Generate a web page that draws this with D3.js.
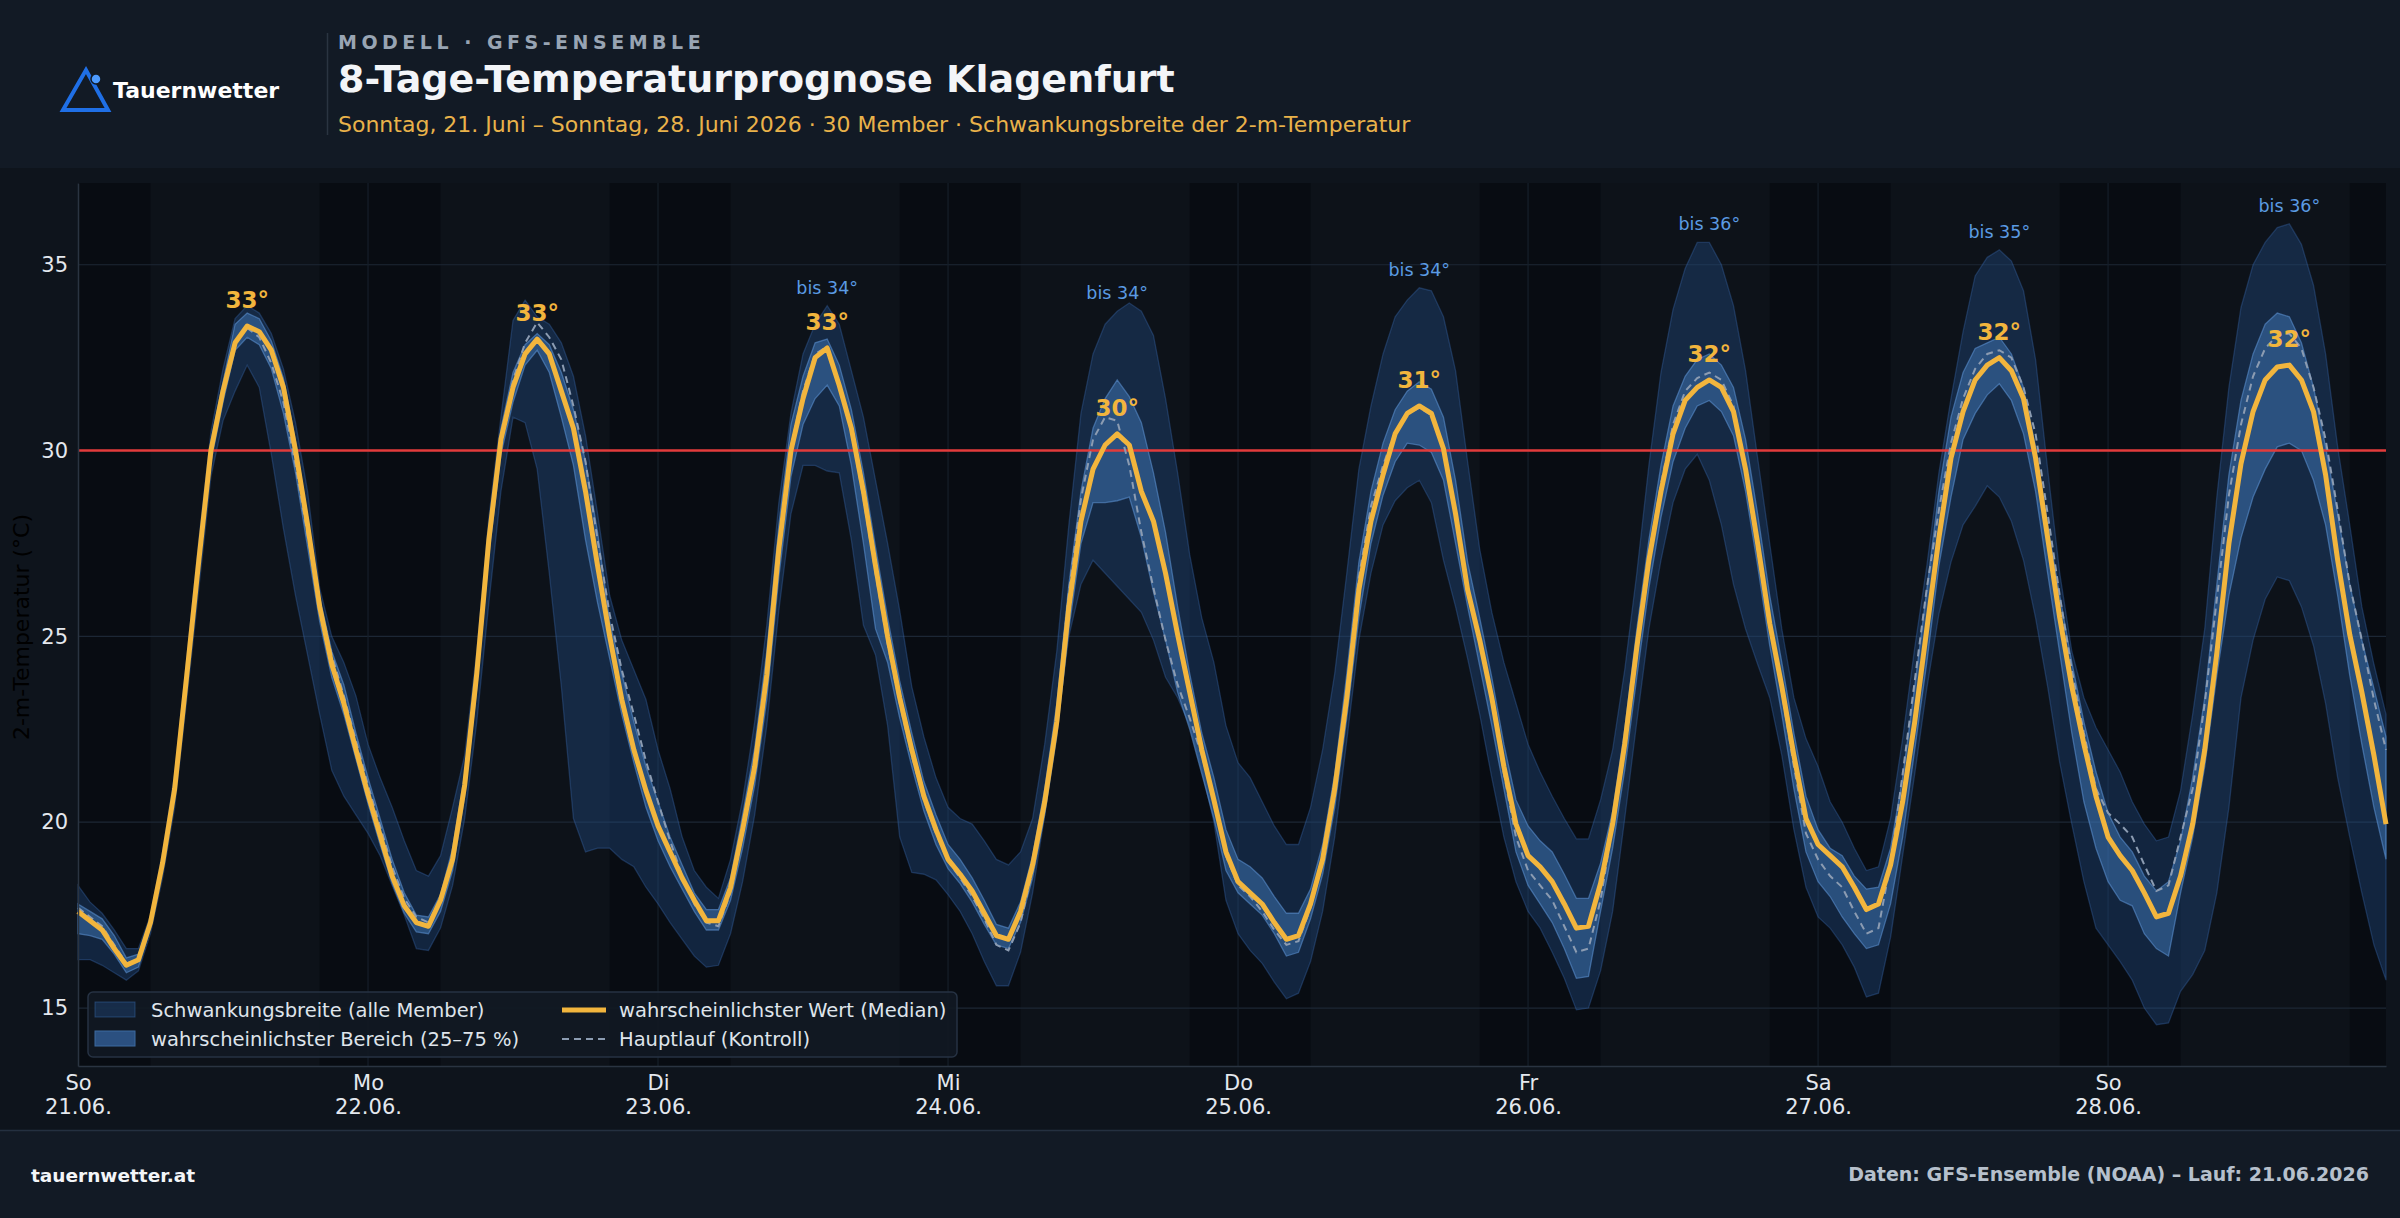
<!DOCTYPE html>
<html lang="de">
<head>
<meta charset="utf-8">
<title>8-Tage-Temperaturprognose Klagenfurt</title>
<script src="https://cdn.jsdelivr.net/npm/d3@7"></script>
<style>
  html, body { margin: 0; padding: 0; background: #0e141c; }
  svg { display: block; font-family: "DejaVu Sans", sans-serif; }
</style>
</head>
<body>
<div id="chart"></div>
<script>
// hourly values from 21.06. 00 h to 28.06. 23 h, one row per day
var median = [
  17.6, 17.35, 17.1, 16.6, 16.15, 16.3, 17.3, 18.9, 20.9, 23.95, 27.05, 30.0, 31.6, 32.9, 33.35, 33.2, 32.7, 31.7, 30.0, 28.0, 25.8, 24.25, 23.2, 21.95,
  20.75, 19.65, 18.55, 17.75, 17.3, 17.2, 17.9, 19.0, 21.0, 24.0, 27.6, 30.3, 31.7, 32.6, 33.0, 32.6, 31.6, 30.6, 28.9, 26.9, 25.0, 23.3, 21.95, 20.85,
  19.9, 19.2, 18.5, 17.9, 17.35, 17.35, 18.24, 19.8, 21.5, 23.96, 27.36, 30.0, 31.4, 32.5, 32.76, 31.75, 30.6, 28.9, 26.9, 25.0, 23.35, 21.95, 20.7, 19.8,
  19.0, 18.6, 18.15, 17.55, 16.95, 16.85, 17.6, 18.85, 20.55, 22.7, 25.8, 28.1, 29.5, 30.15, 30.45, 30.15, 28.9, 28.1, 26.7, 25.05, 23.5, 21.95, 20.6, 19.2,
  18.4, 18.1, 17.8, 17.3, 16.85, 16.95, 17.8, 19.0, 20.9, 23.35, 26.25, 28.1, 29.35, 30.45, 31.0, 31.2, 31.0, 30.05, 28.3, 26.25, 24.9, 23.35, 21.5, 19.95,
  19.1, 18.8, 18.4, 17.8, 17.15, 17.2, 18.35, 19.95, 22.1, 24.7, 27.05, 28.9, 30.45, 31.35, 31.7, 31.9, 31.7, 31.05, 29.5, 27.5, 25.35, 23.65, 21.8, 20.1,
  19.4, 19.1, 18.8, 18.25, 17.65, 17.8, 18.85, 20.55, 22.7, 25.2, 27.65, 29.8, 31.05, 31.9, 32.3, 32.5, 32.15, 31.4, 29.8, 27.65, 25.5, 23.65, 22.1, 20.7,
  19.6, 19.1, 18.7, 18.1, 17.45, 17.55, 18.55, 19.95, 21.95, 24.55, 27.5, 29.65, 31.05, 31.9, 32.25, 32.3, 31.9, 31.05, 29.35, 27.05, 25.05, 23.5, 21.8, 19.95
];
var memberMax = [
  18.3, 17.85, 17.55, 17.1, 16.6, 16.6, 17.5, 19.2, 21.3, 24.4, 27.6, 30.5, 32.2, 33.55, 33.9, 33.7, 33.15, 32.2, 30.75, 28.9, 26.3, 25.0, 24.3, 23.4,
  22.1, 21.2, 20.4, 19.5, 18.7, 18.55, 19.1, 20.4, 21.8, 24.6, 28.2, 30.9, 33.5, 34.05, 33.6, 33.4, 32.9, 32.0, 30.4, 28.3, 26.1, 24.9, 24.1, 23.3,
  21.95, 20.9, 19.6, 18.7, 18.25, 17.95, 19.0, 20.6, 22.7, 25.3, 28.6, 31.0, 32.6, 33.4, 33.9, 33.4, 32.15, 30.9, 29.2, 27.5, 25.7, 23.65, 22.3, 21.2,
  20.4, 20.1, 19.95, 19.5, 19.0, 18.85, 19.2, 20.1, 22.1, 24.6, 28.0, 31.0, 32.6, 33.4, 33.75, 33.97, 33.75, 33.1, 31.4, 29.4, 27.2, 25.5, 24.3, 22.6,
  21.6, 21.2, 20.55, 19.9, 19.4, 19.4, 20.4, 21.95, 24.0, 26.7, 29.5, 31.2, 32.6, 33.6, 34.05, 34.38, 34.3, 33.6, 32.15, 29.7, 27.35, 25.65, 24.3, 23.2,
  22.1, 21.35, 20.7, 20.1, 19.55, 19.55, 20.6, 21.95, 24.1, 26.7, 29.6, 32.1, 33.8, 34.9, 35.6, 35.6, 35.0, 33.9, 32.15, 29.8, 27.5, 25.2, 23.35, 22.25,
  21.5, 20.55, 20.0, 19.3, 18.7, 18.8, 20.1, 22.25, 24.7, 26.9, 29.4, 31.4, 33.2, 34.7, 35.2, 35.4, 35.1, 34.3, 32.45, 29.5, 26.7, 24.6, 23.35, 22.55,
  21.95, 21.35, 20.55, 19.95, 19.5, 19.6, 20.85, 22.9, 25.2, 28.75, 31.7, 33.85, 35.0, 35.6, 36.0, 36.1, 35.55, 34.45, 32.6, 30.1, 28.0, 25.8, 24.25, 22.9
];
var memberMin = [
  16.3, 16.3, 16.15, 15.95, 15.75, 16.0, 17.0, 18.5, 20.4, 23.3, 26.3, 29.3, 30.8, 31.6, 32.3, 31.7, 29.9, 27.9, 26.1, 24.5, 22.9, 21.4, 20.7, 20.2,
  19.7, 19.1, 18.3, 17.5, 16.6, 16.55, 17.15, 18.3, 20.1, 22.7, 25.9, 28.9, 30.9, 30.75, 29.5, 26.7, 23.65, 20.1, 19.2, 19.3, 19.3, 19.0, 18.8, 18.25,
  17.8, 17.3, 16.85, 16.4, 16.1, 16.15, 17.0, 18.4, 20.2, 22.6, 25.7, 28.3, 29.6, 29.6, 29.45, 29.4, 27.6, 25.3, 24.5, 22.6, 19.6, 18.65, 18.6, 18.45,
  18.05, 17.6, 17.0, 16.25, 15.6, 15.6, 16.5, 18.1, 20.2, 22.5, 25.0, 26.4, 27.05, 26.7, 26.35, 26.0, 25.65, 24.9, 23.9, 23.35, 22.6, 21.4, 20.0, 17.9,
  17.0, 16.55, 16.2, 15.7, 15.25, 15.4, 16.25, 17.6, 19.6, 22.2, 24.9, 26.7, 28.0, 28.65, 29.0, 29.2, 28.6, 27.05, 25.8, 24.4, 22.9, 21.2, 19.6, 18.4,
  17.6, 17.15, 16.5, 15.8, 14.95, 15.0, 16.0, 17.6, 20.1, 22.7, 25.2, 27.05, 28.6, 29.5, 29.9, 29.2, 28.0, 26.4, 25.2, 24.25, 23.35, 21.8, 19.8, 18.25,
  17.45, 17.15, 16.7, 16.1, 15.3, 15.4, 16.9, 19.1, 21.3, 23.6, 25.6, 27.0, 28.0, 28.5, 29.05, 28.75, 28.1, 27.05, 25.5, 23.65, 21.6, 19.95, 18.4, 17.15,
  16.7, 16.25, 15.75, 15.0, 14.55, 14.6, 15.45, 15.9, 16.55, 18.1, 20.4, 23.35, 24.9, 26.0, 26.6, 26.5, 25.8, 24.75, 23.2, 21.2, 19.6, 18.1, 16.7, 15.75
];
var p75 = [
  17.8, 17.6, 17.4, 16.95, 16.35, 16.45, 17.4, 19.05, 21.1, 24.15, 27.3, 30.25, 31.85, 33.4, 33.7, 33.55, 32.95, 31.95, 30.25, 28.2, 26.05, 24.6, 23.7, 22.4,
  21.2, 20.1, 19.0, 18.1, 17.5, 17.45, 18.05, 19.3, 21.3, 24.3, 27.9, 30.6, 32.1, 32.85, 33.15, 32.85, 32.1, 31.1, 29.7, 27.8, 25.4, 24.0, 22.7, 21.5,
  20.55, 19.6, 18.85, 18.1, 17.65, 17.65, 18.5, 20.2, 22.0, 24.6, 28.0, 30.7, 32.0, 32.9, 33.0, 32.3, 31.1, 29.4, 27.4, 25.5, 23.8, 22.4, 21.1, 20.2,
  19.4, 19.0, 18.5, 17.9, 17.25, 17.15, 17.85, 19.1, 20.9, 23.2, 26.4, 28.9, 30.6, 31.4, 31.9, 31.45, 30.75, 29.4, 27.8, 25.8, 24.0, 22.4, 21.2, 19.8,
  19.0, 18.8, 18.5, 18.0, 17.55, 17.55, 18.2, 19.4, 21.3, 24.0, 27.0, 28.9, 30.2, 31.1, 31.6, 31.85, 31.65, 30.9, 29.2, 27.0, 25.5, 23.9, 22.1, 20.6,
  19.9, 19.5, 19.2, 18.6, 17.95, 17.95, 18.9, 20.3, 22.5, 25.2, 27.6, 29.6, 31.2, 32.0, 32.45, 32.6, 32.3, 31.7, 30.3, 28.3, 26.1, 24.3, 22.4, 20.7,
  19.8, 19.3, 19.1, 18.55, 18.2, 18.25, 19.3, 21.2, 23.65, 26.25, 28.9, 30.9, 32.1, 32.75, 32.9, 33.05, 32.6, 31.7, 30.1, 28.0, 26.1, 24.3, 22.7, 21.35,
  20.25, 19.6, 19.2, 18.55, 18.15, 18.4, 19.5, 21.2, 23.35, 26.4, 29.35, 31.35, 32.6, 33.4, 33.7, 33.6, 32.9, 31.7, 30.1, 28.3, 26.4, 24.9, 23.6, 22.3
];
var p25 = [
  17.0, 16.95, 16.85, 16.45, 15.95, 16.1, 17.15, 18.75, 20.7, 23.7, 26.8, 29.7, 31.3, 32.7, 33.05, 32.85, 32.2, 31.0, 29.4, 27.4, 25.4, 23.9, 22.9, 21.7,
  20.5, 19.4, 18.35, 17.55, 17.05, 17.0, 17.6, 18.7, 20.7, 23.6, 27.2, 29.9, 31.3, 32.3, 32.7, 32.1, 30.9, 29.6, 27.6, 25.9, 24.4, 22.9, 21.6, 20.4,
  19.5, 18.8, 18.2, 17.6, 17.1, 17.1, 17.9, 19.3, 21.0, 23.3, 26.6, 29.3, 30.7, 31.4, 31.76, 31.2, 29.6, 27.5, 25.2, 24.3, 22.8, 21.5, 20.3, 19.4,
  18.75, 18.35, 17.85, 17.25, 16.7, 16.6, 17.3, 18.5, 20.2, 22.3, 25.2, 27.5, 28.6, 28.6, 28.65, 28.75, 27.66, 26.2, 24.9, 23.5, 22.5, 21.3, 20.1, 18.7,
  18.1, 17.8, 17.5, 17.0, 16.4, 16.5, 17.4, 18.6, 20.4, 22.8, 25.5, 27.5, 28.8, 29.7, 30.2, 30.15, 29.95, 29.2, 27.5, 25.8, 24.2, 22.6, 20.9, 19.2,
  18.3, 17.8, 17.3, 16.6, 15.8, 15.85, 17.6, 19.3, 21.4, 23.9, 26.3, 28.2, 29.7, 30.6, 31.2, 31.35, 31.05, 30.4, 28.9, 26.9, 24.75, 22.9, 20.9, 19.2,
  18.4, 18.0, 17.45, 17.0, 16.6, 16.7, 17.8, 19.6, 21.95, 24.3, 26.9, 28.75, 30.3, 31.0, 31.5, 31.8, 31.35, 30.45, 28.9, 26.7, 24.55, 22.4, 20.55, 19.3,
  18.4, 17.9, 17.75, 17.0, 16.6, 16.4, 18.1, 19.6, 21.5, 23.95, 26.1, 27.65, 28.75, 29.5, 30.1, 30.2, 30.0, 29.2, 28.0, 26.1, 23.95, 22.1, 20.4, 19.0
];
var control = [
  17.7, 17.45, 17.2, 16.7, 16.2, 16.3, 17.3, 18.9, 20.9, 23.95, 27.05, 30.0, 31.6, 32.9, 33.3, 33.05, 32.35, 31.3, 29.6, 27.7, 25.9, 24.5, 23.4, 22.2,
  21.0, 19.9, 18.8, 17.95, 17.45, 17.3, 17.95, 19.0, 21.0, 24.0, 27.6, 30.3, 31.9, 32.9, 33.45, 33.05, 32.45, 31.2, 29.7, 27.6, 25.6, 24.1, 22.9, 21.65,
  20.55, 19.5, 18.55, 17.8, 17.3, 17.2, 18.1, 19.7, 21.5, 24.0, 27.4, 30.1, 31.6, 32.6, 32.8, 31.8, 30.5, 28.7, 26.7, 24.8, 23.2, 21.8, 20.6, 19.7,
  18.95, 18.5, 18.0, 17.4, 16.7, 16.55, 17.3, 18.7, 20.5, 22.9, 26.2, 28.7, 30.3, 30.9, 30.8, 29.6, 27.8, 26.3, 24.9, 23.7, 22.8, 21.8, 20.6, 19.1,
  18.3, 18.0, 17.6, 17.1, 16.7, 16.8, 17.7, 19.0, 21.0, 23.6, 26.6, 28.5, 29.6, 30.5, 31.0, 31.15, 30.95, 30.0, 28.3, 26.3, 24.9, 23.3, 21.3, 19.6,
  18.7, 18.3, 17.9, 17.2, 16.5, 16.6, 17.9, 19.9, 22.2, 24.8, 27.2, 29.1, 30.7, 31.6, 31.95, 32.1, 31.9, 31.2, 29.6, 27.5, 25.3, 23.5, 21.5, 19.7,
  19.0, 18.55, 18.25, 17.6, 17.0, 17.15, 18.9, 21.3, 23.8, 26.3, 28.4, 30.2, 31.4, 32.2, 32.6, 32.7, 32.5, 31.7, 30.45, 28.3, 26.1, 24.1, 22.4, 20.9,
  20.25, 19.95, 19.6, 18.85, 18.15, 18.3, 19.6, 20.9, 23.2, 26.0, 28.8, 30.7, 32.0, 32.75, 33.1, 33.15, 32.75, 31.7, 30.3, 28.4, 26.4, 24.9, 23.3, 21.95
];

var dayNames = ["So", "Mo", "Di", "Mi", "Do", "Fr", "Sa", "So"];
var dayDates = ["21.06.", "22.06.", "23.06.", "24.06.", "25.06.", "26.06.", "27.06.", "28.06."];
var peakLabels = [33, 33, 33, 30, 31, 32, 32, 32];
var rangeLabels = [null, null, 34, 34, 34, 36, 35, 36];
// night hours (20 h to 6 h) as [start, end] hour offsets
var nights = [[0, 6], [20, 30], [44, 54], [68, 78], [92, 102], [116, 126], [140, 150], [164, 174], [188, 191]];
var yTicks = [15, 20, 25, 30, 35];
var hotLine = 30;

var fullW = 2400, fullH = 1218;
var margin = { top: 183, left: 78 };
var width = 2308, height = 883;

var svg = d3.select("#chart").append("svg")
  .attr("width", fullW)
  .attr("height", fullH);

// page background, header and footer
svg.append("rect").attr("width", fullW).attr("height", fullH).attr("fill", "#0e141c");
svg.append("rect").attr("width", fullW).attr("height", 168).attr("fill", "#121a25");
svg.append("rect").attr("y", 1130).attr("width", fullW).attr("height", fullH - 1130).attr("fill", "#121a25");
svg.append("line").attr("x1", 0).attr("x2", fullW).attr("y1", 1130.5).attr("y2", 1130.5)
  .attr("stroke", "#243040").attr("stroke-width", 1.5);

// logo
svg.append("polygon")
  .attr("points", "63,110 86,70 108,110")
  .attr("fill", "none")
  .attr("stroke", "#1f6fe6")
  .attr("stroke-width", 4)
  .attr("stroke-linejoin", "miter");
svg.append("circle").attr("cx", 96).attr("cy", 79).attr("r", 5)
  .attr("fill", "#4d9bff").attr("stroke", "#121a25").attr("stroke-width", 1.5);
svg.append("text").attr("x", 113).attr("y", 98)
  .style("font-size", "22px").style("font-weight", "bold").style("fill", "#ffffff")
  .text("Tauernwetter");
svg.append("line").attr("x1", 327.5).attr("x2", 327.5).attr("y1", 33).attr("y2", 135)
  .attr("stroke", "#2a3441").attr("stroke-width", 1.5);

// header texts
svg.append("text").attr("x", 338).attr("y", 49)
  .style("font-size", "19px").style("font-weight", "bold").style("letter-spacing", "4.5px")
  .style("fill", "#98a4b3")
  .text("MODELL · GFS-ENSEMBLE");
svg.append("text").attr("x", 338).attr("y", 92)
  .style("font-size", "38px").style("font-weight", "bold").style("fill", "#f3f5f8")
  .text("8-Tage-Temperaturprognose Klagenfurt");
svg.append("text").attr("x", 338).attr("y", 132)
  .style("font-size", "22px").style("fill", "#e9b24a")
  .text("Sonntag, 21. Juni – Sonntag, 28. Juni 2026 · 30 Member · Schwankungsbreite der 2-m-Temperatur");

// footer texts
svg.append("text").attr("x", 31).attr("y", 1182)
  .style("font-size", "18.5px").style("font-weight", "bold").style("fill", "#f3f5f8")
  .text("tauernwetter.at");
svg.append("text").attr("x", 2369).attr("y", 1181)
  .style("font-size", "19px").style("font-weight", "bold").style("fill", "#b6c0cc")
  .style("text-anchor", "end")
  .text("Daten: GFS-Ensemble (NOAA) – Lauf: 21.06.2026");

var g = svg.append("g")
  .attr("transform", "translate(" + margin.left + "," + margin.top + ")");

var x = d3.scaleLinear().domain([0, median.length - 1]).range([0, width]);
var y = d3.scaleLinear().domain([13.44, 37.2]).range([height, 0]);

// plot background and night shading
g.append("rect").attr("width", width).attr("height", height).attr("fill", "#0d1219");
g.selectAll("rect.night")
  .data(nights)
  .enter()
  .append("rect")
  .attr("class", "night")
  .attr("x", function (d) { return x(d[0]); })
  .attr("width", function (d) { return x(d[1]) - x(d[0]); })
  .attr("y", 0)
  .attr("height", height)
  .attr("fill", "#080c12");

// grid
g.selectAll("line.hgrid")
  .data(yTicks)
  .enter()
  .append("line")
  .attr("class", "hgrid")
  .attr("x1", 0).attr("x2", width)
  .attr("y1", function (d) { return y(d); })
  .attr("y2", function (d) { return y(d); })
  .attr("stroke", "#1c2735").attr("stroke-width", 1.2);
g.selectAll("line.vgrid")
  .data(d3.range(24, median.length, 24))
  .enter()
  .append("line")
  .attr("class", "vgrid")
  .attr("x1", function (d) { return x(d); })
  .attr("x2", function (d) { return x(d); })
  .attr("y1", 0).attr("y2", height)
  .attr("stroke", "#161f2a").attr("stroke-width", 1.2);

var hours = d3.range(median.length);

var outerArea = d3.area()
  .x(function (h) { return x(h); })
  .y0(function (h) { return y(memberMin[h]); })
  .y1(function (h) { return y(memberMax[h]); });
var iqrArea = d3.area()
  .x(function (h) { return x(h); })
  .y0(function (h) { return y(p25[h]); })
  .y1(function (h) { return y(p75[h]); });

g.append("path").datum(hours)
  .attr("d", outerArea)
  .attr("fill", "rgba(36,82,145,0.36)")
  .attr("stroke", "rgba(60,110,180,0.35)")
  .attr("stroke-width", 1.3);
g.append("path").datum(hours)
  .attr("d", iqrArea)
  .attr("fill", "rgba(72,130,200,0.45)")
  .attr("stroke", "rgba(95,150,215,0.55)")
  .attr("stroke-width", 1.3);

// 30 degree line
g.append("line")
  .attr("x1", 0).attr("x2", width)
  .attr("y1", y(hotLine)).attr("y2", y(hotLine))
  .attr("stroke", "#e23b3b").attr("stroke-width", 2.5);

var ctrlLine = d3.line()
  .x(function (h) { return x(h); })
  .y(function (h) { return y(control[h]); });
var medLine = d3.line()
  .x(function (h) { return x(h); })
  .y(function (h) { return y(median[h]); });

g.append("path").datum(hours)
  .attr("d", ctrlLine)
  .attr("fill", "none")
  .attr("stroke", "#8c9cb2")
  .attr("stroke-width", 2)
  .attr("stroke-dasharray", "7,5");
g.append("path").datum(hours)
  .attr("d", medLine)
  .attr("fill", "none")
  .attr("stroke", "#f2b53d")
  .attr("stroke-width", 5)
  .attr("stroke-linejoin", "round");

// daily peak labels
peakLabels.forEach(function (lbl, d) {
  var hrs = d3.range(d * 24, d * 24 + 24);
  var hPeak = hrs[d3.maxIndex(hrs, function (h) { return median[h]; })];
  g.append("text")
    .attr("x", x(hPeak))
    .attr("y", y(median[hPeak]) - 18)
    .style("text-anchor", "middle")
    .style("font-size", "23px")
    .style("font-weight", "bold")
    .style("fill", "#f2b53d")
    .text(lbl + "°");
  if (rangeLabels[d] !== null) {
    g.append("text")
      .attr("x", x(hPeak))
      .attr("y", y(memberMax[hPeak]) - 12)
      .style("text-anchor", "middle")
      .style("font-size", "17.5px")
      .style("fill", "#5b9be3")
      .text("bis " + rangeLabels[d] + "°");
  }
});

// axes
var xAxis = d3.axisBottom(x).tickValues(d3.range(0, median.length, 24)).tickSize(0);
var xg = g.append("g")
  .attr("transform", "translate(0," + height + ")")
  .call(xAxis);
xg.select(".domain").attr("stroke", "#2a3441").attr("stroke-width", 1.5);
xg.selectAll("text")
  .style("font-size", "21px")
  .style("font-family", "DejaVu Sans, sans-serif")
  .attr("fill", "#e4e8ee")
  .each(function (d, i) {
    var t = d3.select(this).text(null).attr("y", 0).attr("dy", null);
    t.append("tspan").attr("x", 0).attr("y", 24).text(dayNames[i]);
    t.append("tspan").attr("x", 0).attr("y", 48).text(dayDates[i]);
  });

var yAxis = d3.axisLeft(y).tickValues(yTicks).tickSize(0).tickPadding(10);
var yg = g.append("g").call(yAxis);
yg.select(".domain").attr("stroke", "#2a3441").attr("stroke-width", 1.5);
yg.selectAll("text")
  .style("font-size", "21px")
  .style("font-family", "DejaVu Sans, sans-serif")
  .attr("fill", "#e4e8ee");

svg.append("text")
  .attr("transform", "translate(29,627)rotate(-90)")
  .style("text-anchor", "middle")
  .style("font-size", "22px")
  .style("fill", "#000000")
  .text("2-m-Temperatur (°C)");

// legend
var legend = svg.append("g");
legend.append("rect")
  .attr("x", 88).attr("y", 992).attr("width", 869).attr("height", 65).attr("rx", 5)
  .attr("fill", "#111923").attr("fill-opacity", 0.92)
  .attr("stroke", "#263243").attr("stroke-width", 1.5);
legend.append("rect").attr("x", 95).attr("y", 1002).attr("width", 40).attr("height", 15)
  .attr("fill", "rgba(36,82,145,0.36)").attr("stroke", "rgba(60,110,180,0.45)");
legend.append("rect").attr("x", 95).attr("y", 1031).attr("width", 40).attr("height", 15)
  .attr("fill", "#2b5080").attr("stroke", "#3d6aa0");
legend.append("line").attr("x1", 562).attr("x2", 606).attr("y1", 1010).attr("y2", 1010)
  .attr("stroke", "#f2b53d").attr("stroke-width", 5);
legend.append("line").attr("x1", 562).attr("x2", 606).attr("y1", 1039).attr("y2", 1039)
  .attr("stroke", "#8c9cb2").attr("stroke-width", 2).attr("stroke-dasharray", "7,5");
var legendItems = [
  { x: 151, y: 1010, text: "Schwankungsbreite (alle Member)" },
  { x: 151, y: 1039, text: "wahrscheinlichster Bereich (25–75 %)" },
  { x: 619, y: 1010, text: "wahrscheinlichster Wert (Median)" },
  { x: 619, y: 1039, text: "Hauptlauf (Kontroll)" }
];
legend.selectAll("text")
  .data(legendItems)
  .enter()
  .append("text")
  .attr("x", function (d) { return d.x; })
  .attr("y", function (d) { return d.y; })
  .attr("dy", ".35em")
  .style("font-size", "19.5px")
  .style("fill", "#dfe4eb")
  .text(function (d) { return d.text; });
</script>
</body>
</html>
